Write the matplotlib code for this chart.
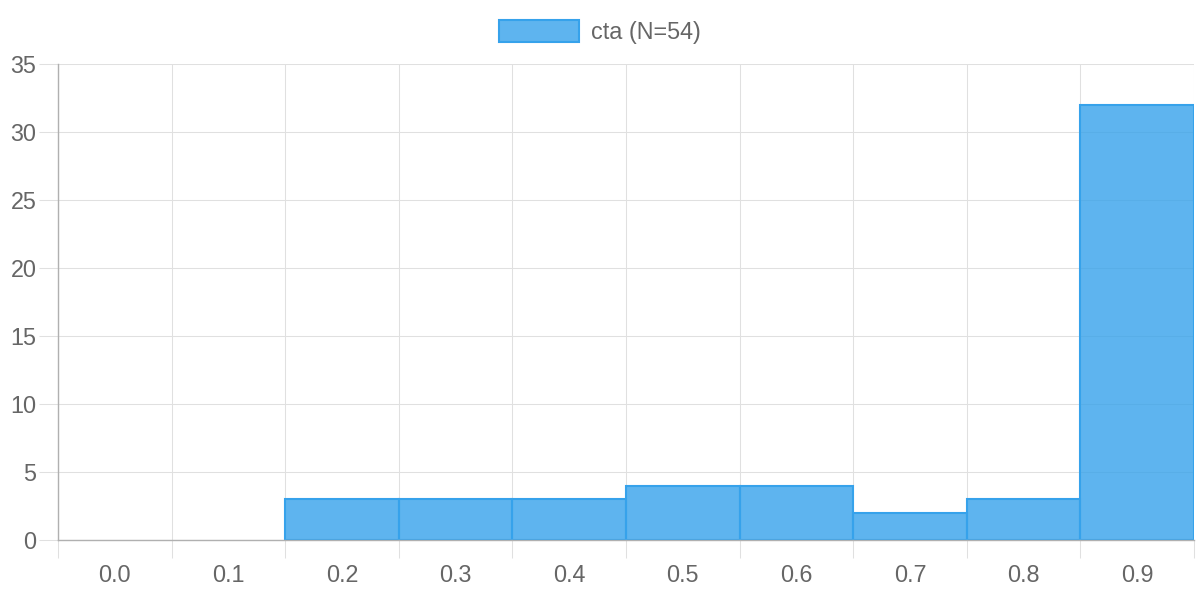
import numpy as np
import matplotlib
matplotlib.use("Agg")
import matplotlib.pyplot as plt
from matplotlib.patches import Patch
from matplotlib.ticker import FixedLocator, MultipleLocator

plt.rcParams['font.family'] = ['Liberation Sans', 'DejaVu Sans']

# 直方图数据
categories = ['0.0', '0.1', '0.2', '0.3', '0.4', '0.5', '0.6', '0.7', '0.8', '0.9']
counts = [0, 0, 3, 3, 3, 4, 4, 2, 3, 32]
label = 'cta (N=54)'

text_color = '#666666'
grid_color = '#e0e0e0'
axis_color = '#b0b0b0'
fill = (54 / 255, 162 / 255, 235 / 255, 0.8)
edge = '#36A2EB'
fs = 16.8

fig = plt.figure(figsize=(12, 6), dpi=100)
ax = fig.add_axes([58 / 1200, 60 / 600, 1136 / 1200, 476 / 600])

x = np.arange(len(categories))
# 高度为0的柱子不画边框
lws = [1.5 if c > 0 else 0 for c in counts]
ax.bar(x, counts, width=1.0, color=fill, edgecolor=edge, linewidth=lws)

ax.set_xlim(-0.5, len(categories) - 0.5)
ax.set_ylim(0, 35)
ax.set_axisbelow(True)

# x轴: 标签在类别中心, 网格线在类别边界
ax.xaxis.set_major_locator(FixedLocator(x))
ax.set_xticklabels(categories)
ax.xaxis.set_minor_locator(FixedLocator(np.arange(-0.5, len(categories), 1.0)))
ax.tick_params(axis='x', which='major', length=0, pad=17, labelsize=fs, labelcolor=text_color)
ax.tick_params(axis='x', which='minor', length=13, width=0.75, color=grid_color)
ax.grid(axis='x', which='minor', color=grid_color, linewidth=0.75)

# y轴
ax.yaxis.set_major_locator(MultipleLocator(5))
ax.tick_params(axis='y', which='major', length=14, width=0.75, color=grid_color,
               pad=1.5, labelsize=fs, labelcolor=text_color)
ax.grid(axis='y', which='major', color=grid_color, linewidth=0.75)

for s in ['top', 'right']:
    ax.spines[s].set_visible(False)
for s in ['left', 'bottom']:
    ax.spines[s].set_color(axis_color)
    ax.spines[s].set_linewidth(1.0)
    ax.spines[s].set_zorder(5)

handle = Patch(facecolor=fill, edgecolor=edge, linewidth=1.5)
fig.legend([handle], [label], loc='center', bbox_to_anchor=(0.5, 1 - 32 / 600), frameon=False,
           fontsize=fs, labelcolor=text_color, handlelength=80 / 23.3, handleheight=24 / 23.3,
           handletextpad=0.5, borderpad=0)

fig.savefig('out.png', dpi=100)
